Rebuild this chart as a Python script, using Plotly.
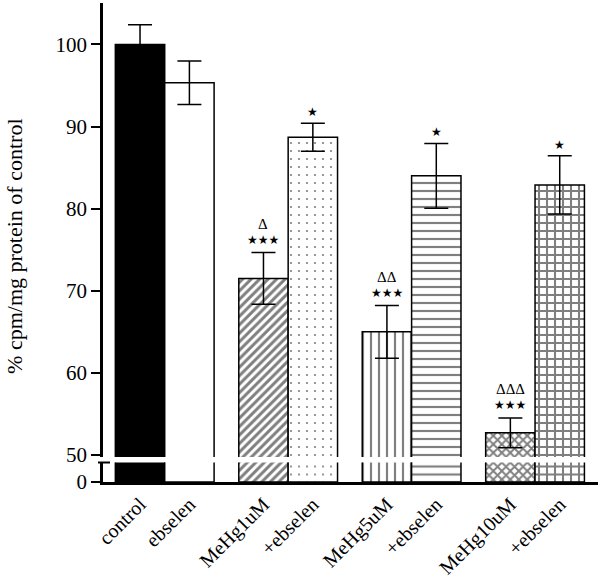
import plotly.graph_objects as go

# ---- data ----
groups = ["none", "MeHg1uM", "MeHg5uM", "MeHg10uM"]
bar_labels = ["control", "ebselen", "MeHg1uM", "+ebselen",
              "MeHg5uM", "+ebselen", "MeHg10uM", "+ebselen"]
values = [100.0, 95.35, 71.5, 88.7, 65.0, 84.0, 52.7, 82.9]
errors = [2.4, 2.65, 3.15, 1.7, 3.2, 3.95, 1.8, 3.55]
sig_stars = ["", "", "★★★", "★", "★★★", "★", "★★★", "★"]
sig_delta = ["", "", "Δ", "", "ΔΔ", "", "ΔΔΔ", ""]
y_ticks_top = [50, 60, 70, 80, 90, 100]
y_ticks_bottom = [0]

FONT = "Liberation Serif"
bargap = 0.2
bw = (1 - bargap) / 2          # bar width in group units
# bar centres: two adjacent bars per group
xpos = []
for g in range(len(groups)):
    xpos += [g - bw / 2, g + bw / 2]

styles = [
    dict(color="black", shape="", size=8, sol=0.2),
    dict(color="white", shape="", size=8, sol=0.2),
    dict(color="white", shape="/", size=6, sol=0.5),
    dict(color="white", shape=".", size=8, sol=0.06),
    dict(color="white", shape="|", size=8, sol=0.27),
    dict(color="white", shape="-", size=8, sol=0.27),
    dict(color="white", shape="x", size=6, sol=0.55),
    dict(color="white", shape="+", size=8, sol=0.45),
]

fig = go.Figure()

def add_bars(xaxis, yaxis, with_err):
    for i in range(len(values)):
        st = styles[i]
        marker = dict(color=st["color"], line=dict(color="black", width=1.5))
        if st["shape"]:
            marker["pattern"] = dict(shape=st["shape"], fgcolor="black", bgcolor="white",
                                     size=st["size"], solidity=st["sol"])
        fig.add_trace(go.Bar(
            x=[xpos[i]], y=[values[i]], width=bw, xaxis=xaxis, yaxis=yaxis,
            marker=marker,
            error_y=dict(type="data", array=[errors[i]], visible=with_err,
                         color="black", thickness=1.5, width=12),
            showlegend=False, hoverinfo="skip",
        ))

add_bars("x2", "y2", True)
add_bars("x", "y", False)

xr = [-0.5, 3.51]
axis_line = dict(showline=True, linecolor="black", linewidth=2.5,
                 showgrid=False, zeroline=False, automargin=False)

fig.update_layout(
    width=600, height=582,
    margin=dict(l=103, r=2, t=3, b=100, autoexpand=False),
    paper_bgcolor="white", plot_bgcolor="white",
    barmode="overlay",
    font=dict(family=FONT, color="black", size=21),
    xaxis=dict(range=xr, tickvals=xpos, ticktext=bar_labels, tickangle=-45,
               ticks="", anchor="y", tickfont=dict(size=20, family=FONT), **axis_line),
    xaxis2=dict(range=xr, anchor="y2", visible=False, matches="x"),
    yaxis=dict(domain=[0, 0.0407], range=[0, 5], tickvals=y_ticks_bottom,
               ticks="outside", ticklen=9, tickwidth=2, tickcolor="black",
               tickfont=dict(size=21, family=FONT), **axis_line),
    yaxis2=dict(domain=[0.0522, 1], range=[49.76, 105.05], tickvals=y_ticks_top,
                ticks="outside", ticklen=9, tickwidth=2, tickcolor="black",
                tickfont=dict(size=21, family=FONT), anchor="x2", **axis_line),
)

# axis break cap
fig.add_shape(type="line", xref="paper", yref="paper",
              x0=-0.0101, x1=0.0141, y0=0.0407, y1=0.0407,
              line=dict(color="black", width=2))

# significance marks
anns = []
for i in range(len(values)):
    top = values[i] + errors[i]
    if sig_stars[i]:
        anns.append(dict(x=xpos[i], y=top, xref="x2", yref="y2", text=sig_stars[i],
                         showarrow=False, yshift=13 if sig_delta[i] else 11,
                         font=dict(size=12, family="DejaVu Sans")))
    if sig_delta[i]:
        anns.append(dict(x=xpos[i], y=top, xref="x2", yref="y2", text=sig_delta[i],
                         showarrow=False, yshift=29, font=dict(size=15, family=FONT)))

anns.append(dict(x=-0.178, y=0.4927, xref="paper", yref="paper", xanchor="center",
                 yanchor="middle", text="% cpm/mg protein of control", textangle=-90,
                 showarrow=False, font=dict(size=22, family=FONT)))
fig.update_layout(annotations=anns)

fig.write_html("out.html", config={"displayModeBar": False},
               post_script="document.body.style.margin='0';document.body.style.padding='0';")
